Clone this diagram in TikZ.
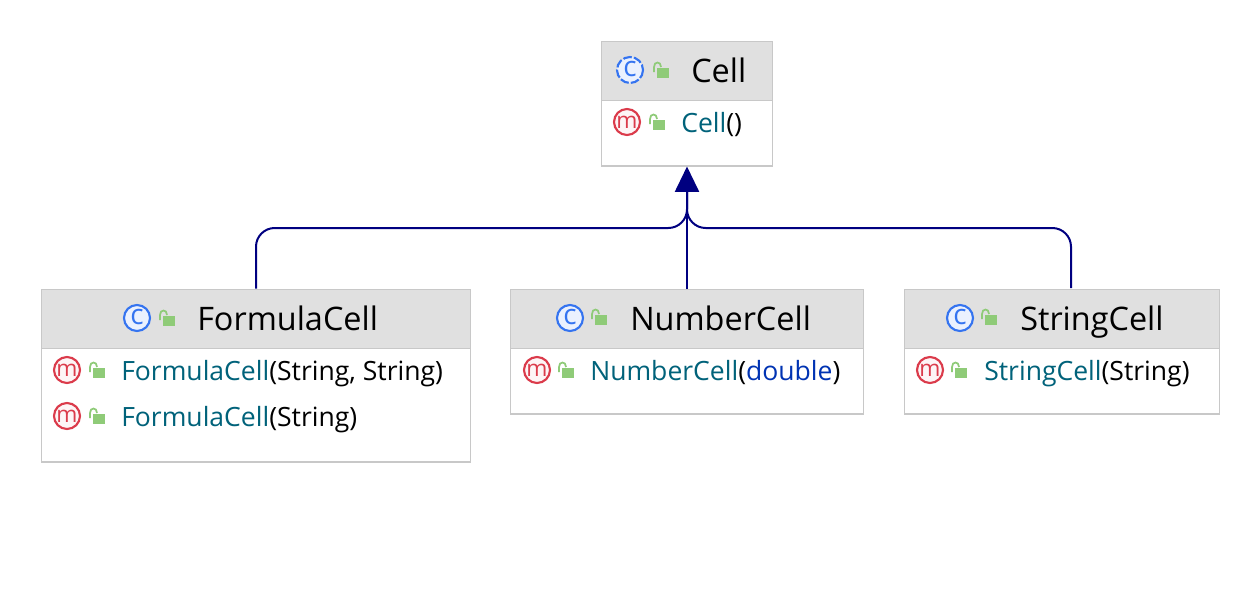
\documentclass[tikz,border=0pt]{standalone}
\usepackage{fontspec}
\setmainfont{Open Sans}
\usetikzlibrary{arrows.meta,positioning}
\definecolor{boxline}{HTML}{C8C8C8}
\definecolor{headfill}{HTML}{E0E0E0}
\definecolor{methodname}{HTML}{00627A}
\definecolor{keyword}{HTML}{0033B3}
\definecolor{iconblue}{HTML}{3574F0}
\definecolor{iconred}{HTML}{DB3B4B}
\definecolor{lockgreen}{HTML}{8FCB78}
\definecolor{edgeblue}{HTML}{000080}
\tikzset{
	classbox/.style={draw=boxline, fill=white, line width=1pt, inner sep=0pt, anchor=north},
	headbox/.style={draw=boxline, fill=headfill, line width=1pt, inner sep=0pt, anchor=north, minimum height=44.5pt},
	titletext/.style={anchor=base west, inner sep=0pt, font=\fontsize{24.3}{27}\selectfont},
	methodtext/.style={anchor=base west, inner sep=0pt, font=\fontsize{19.9}{22}\selectfont},
	edge/.style={edgeblue, line width=1.5pt, rounded corners=14pt},
	pics/lockicon/.style={code={
		\fill[lockgreen] (-6,-5) rectangle (6,5);
		\draw[lockgreen, line width=1.3pt] (-9,-1) -- (-9,-6) .. controls (-9,-12) and (-2,-12) .. (-2,-6);
	}},
	pics/classicon/.style={code={
		\draw[iconblue, fill=iconblue!10, line width=1.6pt, #1] (0,0) circle (13);
		\node[iconblue, inner sep=0pt, font=\fontsize{21}{21}\selectfont] (-letter) at (0,-1) {c};
	}},
	pics/methodicon/.style={code={
		\draw[iconred, fill=iconred!5, line width=1.6pt] (0,0) circle (13);
		\node[iconred, inner sep=0pt, font=\fontsize{17}{17}\selectfont] (-letter) at (0,0) {m};
	}}
}
\newcommand{\mname}[1]{\textcolor{methodname}{#1}}
\begin{document}
\begin{tikzpicture}[x=0.75pt, y=-0.75pt]
	\useasboundingbox (0,0) rectangle (1260,600);
	% boxes
	\node[classbox, minimum width=128.5pt, minimum height=93.5pt] (Cell) at (687,40.5) {};
	\node[headbox, minimum width=128.5pt] (CellHead) at (Cell.north) {};
	\node[classbox, minimum width=321.5pt, minimum height=129.5pt] (FormulaCell) at (256,288.5) {};
	\node[headbox, minimum width=321.5pt] (FormulaHead) at (FormulaCell.north) {};
	\node[classbox, minimum width=264.5pt, minimum height=93.5pt] (NumberCell) at (687,288.5) {};
	\node[headbox, minimum width=264.5pt] (NumberHead) at (NumberCell.north) {};
	\node[classbox, minimum width=236pt, minimum height=93.5pt] (StringCell) at (1062,288.5) {};
	\node[headbox, minimum width=236pt] (StringHead) at (StringCell.north) {};
	% titles
	\node[titletext] (CellTitle) at (691,82) {Cell};
	\node[titletext] (FormulaTitle) at (197,330) {FormulaCell};
	\node[titletext] (NumberTitle) at (630,330) {NumberCell};
	\node[titletext] (StringTitle) at (1020,330) {StringCell};
	% methods
	\node[methodtext] (CellInit) at (681,132) {\mname{Cell}()};
	\node[methodtext] (FormulaInitA) at (121,380) {\mname{FormulaCell}(String, String)};
	\node[methodtext] (FormulaInitB) at (121,426) {\mname{FormulaCell}(String)};
	\node[methodtext] (NumberInit) at (590,380) {\mname{NumberCell}(\textcolor{keyword}{double})};
	\node[methodtext] (StringInit) at (984,380) {\mname{StringCell}(String)};
	% icons
	\pic (CellIcon) at (630,70) {classicon={dash pattern=on 6.5pt off 1.6pt}};
	\pic at (663,73) {lockicon};
	\pic (FormulaIcon) at (137,318) {classicon={solid}};
	\pic at (169,321) {lockicon};
	\pic (NumberIcon) at (570,318) {classicon={solid}};
	\pic at (601,320) {lockicon};
	\pic (StringIcon) at (960,318) {classicon={solid}};
	\pic at (991,320) {lockicon};
	\pic (CellInitIcon) at (627,122) {methodicon};
	\pic at (659,125) {lockicon};
	\pic (FormulaInitAIcon) at (67,370) {methodicon};
	\pic at (99,373) {lockicon};
	\pic (FormulaInitBIcon) at (67,416) {methodicon};
	\pic at (99,419) {lockicon};
	\pic (NumberInitIcon) at (537,370) {methodicon};
	\pic at (568,373) {lockicon};
	\pic (StringInitIcon) at (930,370) {methodicon};
	\pic at (961,373) {lockicon};
	% connectors
	\coordinate (bus) at (687,228);
	\coordinate (tip) at (687,192);
	\coordinate (StringTop) at (1071,288);
	\draw[edge] (FormulaCell.north) |- (bus) -- (tip);
	\draw[edge] (StringTop) |- (bus) -- (tip);
	\draw[edgeblue, line width=1.5pt, -{Triangle[length=19pt,width=18pt]}] (NumberCell.north) -- (Cell.south);
\end{tikzpicture}
\end{document}
